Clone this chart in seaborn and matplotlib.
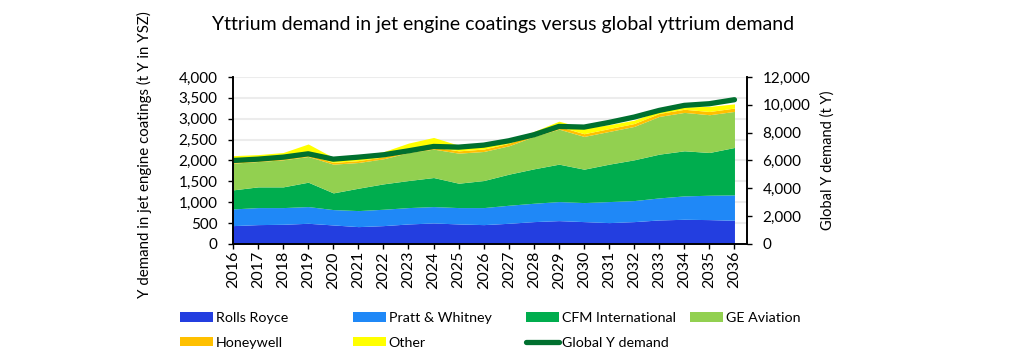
import matplotlib
matplotlib.use("Agg")
import matplotlib.pyplot as plt
import seaborn as sns
from matplotlib.patches import Patch
from matplotlib.lines import Line2D
from matplotlib.ticker import FuncFormatter

# data (tonnes)
years = list(range(2016, 2037))
rolls_royce = [440, 464, 472, 496, 456, 416, 440, 480, 504, 480, 464, 496, 536, 560, 536, 512, 536, 576, 592, 584, 568]
pratt_whitney = [400, 408, 400, 400, 368, 384, 392, 392, 392, 392, 408, 432, 440, 456, 456, 504, 504, 528, 560, 584, 608]
cfm_international = [456, 496, 496, 584, 400, 536, 608, 648, 696, 584, 648, 744, 824, 896, 800, 896, 976, 1048, 1080, 1024, 1136]
ge_aviation = [640, 608, 648, 616, 688, 616, 600, 672, 680, 720, 696, 680, 776, 840, 784, 784, 800, 904, 920, 904, 864]
honeywell = [40, 40, 42, 45, 42, 45, 48, 50, 55, 55, 58, 60, 62, 65, 65, 68, 70, 72, 75, 78, 80]
other = [140, 125, 133, 255, 118, 125, 122, 175, 225, 135, 92, 70, 58, 125, 135, 92, 80, 58, 55, 122, 100]
global_demand = [6000, 6096, 6240, 6480, 6096, 6240, 6408, 6696, 7008, 6960, 7104, 7416, 7848,
                 8448, 8400, 8736, 9120, 9600, 9960, 10080, 10368]

series_names = ["Rolls Royce", "Pratt & Whitney", "CFM International", "GE Aviation", "Honeywell", "Other"]
area_colors = ["#233ee0", "#1f88f7", "#00ad4e", "#92d050", "#ffc000", "#ffff00"]
line_color = "#00702f"

sns.set_theme(style="white")
plt.rcParams['font.family'] = ['Lato', 'DejaVu Sans']
plt.rcParams['text.color'] = 'black'
plt.rcParams['xtick.color'] = 'black'
plt.rcParams['ytick.color'] = 'black'

fig = plt.figure(figsize=(10.24, 3.55), dpi=100)
ax = fig.add_axes([0.2275, 0.3127, 0.502, 0.4704])

ax.stackplot(years, rolls_royce, pratt_whitney, cfm_international, ge_aviation, honeywell, other,
             colors=area_colors, linewidth=0, zorder=2)

ax.set_xlim(2016, 2036.5)
ax.set_ylim(0, 4000)
ax.set_xticks(years)
ax.set_xticklabels([str(y) for y in years], rotation=90, fontsize=11.5)
ax.set_yticks(range(0, 4001, 500))
ax.yaxis.set_major_formatter(FuncFormatter(lambda v, p: f"{v:,.0f}"))
ax.yaxis.grid(True, color="#ececec", lw=1.5, zorder=0)
ax.set_axisbelow(True)
ax.tick_params(axis="y", left=True, direction="out", length=3.6, width=1, color="black", pad=7.5, labelsize=11)
ax.tick_params(axis="x", bottom=True, direction="out", length=3.6, width=1, color="black", pad=1.5)

# secondary axis: global yttrium demand
ax2 = ax.twinx()
sns.lineplot(x=years, y=global_demand, ax=ax2, color=line_color, lw=3.8, solid_capstyle="round")
ax2.set_ylim(0, 12000)
ax2.set_yticks(range(0, 12001, 2000))
ax2.yaxis.set_major_formatter(FuncFormatter(lambda v, p: f"{v:,.0f}"))
ax2.tick_params(axis="y", right=True, direction="out", length=3.6, width=1, color="black", pad=7.5, labelsize=11)
ax2.set_ylabel("")
ax2.grid(False)

for a in (ax, ax2):
    a.spines["top"].set_visible(False)
    for s in ("left", "bottom", "right"):
        a.spines[s].set_color("black")
        a.spines[s].set_linewidth(1.2)

fig.text(0.491, 0.93, "Yttrium demand in jet engine coatings versus global yttrium demand",
         ha="center", va="center", fontsize=14)
fig.text(0.141, 0.565, "Y demand in jet engine coatings (t Y in YSZ)", rotation=90,
         ha="center", va="center", fontsize=10.8)
fig.text(0.808, 0.549, "Global Y demand (t Y)", rotation=90, ha="center", va="center", fontsize=10.5)

# legend, laid out like the Excel one: 4 columns, 2 rows
handles = [Patch(facecolor=c, edgecolor="none") for c in area_colors]
handles.append(Line2D([], [], color=line_color, lw=3.8))
labels = series_names + ["Global Y demand"]
col_x = [180, 353, 526, 690]
for i, x in enumerate(col_x):
    idx = [i, i + 4] if i + 4 < len(labels) else [i]
    fig.legend([handles[j] for j in idx], [labels[j] for j in idx],
               loc="upper left", bbox_to_anchor=(x / 1024, 0.12), frameon=False,
               fontsize=10.3, handlelength=2.3, handleheight=0.68, handletextpad=0.2,
               labelspacing=0.85, borderpad=0, borderaxespad=0)

fig.savefig("out.png", dpi=100)
